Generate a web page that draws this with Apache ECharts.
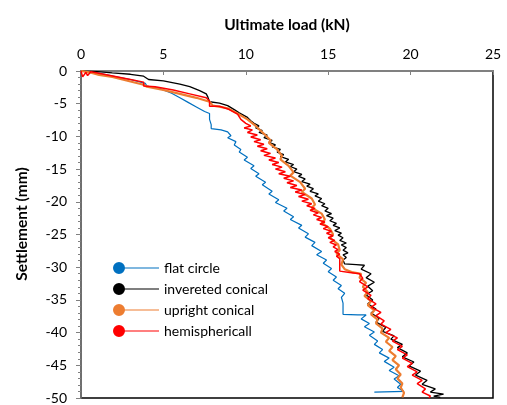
<!DOCTYPE html>
<html>
<head>
<meta charset="utf-8">
<script src="https://cdn.jsdelivr.net/npm/echarts@6/dist/echarts.min.js"></script>
<style>
html,body{margin:0;padding:0;background:#fff;}
#chart{width:507px;height:405px;}
</style>
</head>
<body>
<div id="chart"></div>
<script>
// Series names
var seriesNames = ['flat circle', 'invereted conical', 'upright conical', 'hemisphericall'];
var seriesColors = ['#0070C0', '#000000', '#ED7D31', '#FF0000'];

// [load (kN), settlement (mm)]
var flatCircle = [[0,0],[0.4,-0.1],[1,-0.3],[2,-0.8],[3,-1.3],[3.9,-1.9],[4.0,-2.3],[4.8,-2.7],[5.5,-3.4],[6.0,-4.1],[6.5,-4.8],[7.0,-5.5],[7.5,-6.2],[7.8,-6.5],[7.8,-7.4],[7.9,-8.2],[7.9,-8.8],[8.5,-9.0],[8.9,-9.3],[9.1,-9.9],[8.9,-10.2],[9.4,-10.8],[9.3,-11.3],[9.7,-12.0],[9.6,-12.4],[10.1,-13.2],[9.9,-13.6],[10.5,-14.5],[10.3,-14.9],[10.8,-15.7],[10.6,-16.1],[11.2,-17.0],[11.0,-17.4],[11.6,-18.4],[11.4,-18.8],[12.0,-19.7],[11.8,-20.1],[12.5,-21.0],[12.3,-21.4],[12.9,-22.3],[12.7,-22.7],[13.4,-23.6],[13.2,-24.0],[13.8,-24.9],[13.6,-25.4],[14.2,-26.2],[14.0,-26.7],[14.6,-27.6],[14.3,-28.1],[14.9,-28.9],[14.7,-29.4],[15.2,-30.2],[15.0,-30.7],[15.5,-31.5],[15.3,-32.0],[15.8,-32.8],[15.6,-33.3],[16.0,-34.0],[15.8,-34.6],[15.9,-35.5],[15.9,-36.5],[15.9,-37.2],[16.8,-37.3],[17.3,-37.3],[17.0,-37.9],[17.5,-38.6],[17.2,-39.1],[17.8,-39.9],[17.5,-40.4],[18.0,-41.3],[17.8,-41.8],[18.3,-42.6],[18.1,-43.1],[18.7,-43.9],[18.4,-44.4],[19.0,-45.3],[18.7,-45.8],[19.3,-46.6],[19.0,-47.1],[19.4,-47.9],[19.2,-48.4],[19.6,-49.0],[17.8,-49.1]];

var inveretedConical = [[0,0],[1,-0.1],[1.9,-0.3],[3,-0.5],[3.8,-0.8],[3.9,-1.1],[4.1,-1.3],[5.0,-1.5],[6.0,-2.0],[6.6,-2.4],[7.2,-3.0],[7.6,-3.5],[7.7,-4.0],[7.8,-4.7],[8.4,-4.9],[8.9,-5.3],[9.3,-5.9],[9.6,-6.4],[10.1,-7.1],[10.3,-7.6],[10.5,-8.0],[10.8,-8.4],[10.6,-8.7],[11.0,-9.1],[10.8,-9.4],[11.3,-9.8],[11.1,-10.2],[11.6,-10.6],[11.4,-10.9],[11.8,-11.3],[11.6,-11.6],[12.1,-12.0],[11.9,-12.4],[12.3,-12.8],[12.1,-13.1],[12.6,-13.5],[12.4,-13.9],[12.9,-14.3],[12.7,-14.6],[13.1,-15.0],[12.9,-15.4],[13.4,-15.8],[13.2,-16.1],[13.6,-16.5],[13.4,-16.9],[13.9,-17.3],[13.7,-17.6],[14.1,-18.0],[13.9,-18.4],[14.4,-18.8],[14.2,-19.1],[14.6,-19.5],[14.4,-19.9],[14.8,-20.3],[14.6,-20.6],[15.0,-21.0],[14.8,-21.4],[15.2,-21.8],[14.9,-22.1],[15.3,-22.5],[15.1,-22.9],[15.5,-23.3],[15.3,-23.6],[15.7,-24.0],[15.4,-24.4],[15.8,-24.8],[15.6,-25.1],[15.9,-25.5],[15.7,-25.9],[16.1,-26.3],[15.8,-26.6],[16.1,-27.0],[15.9,-27.4],[16.2,-27.8],[15.9,-28.1],[16.1,-28.5],[15.9,-28.9],[16.0,-29.5],[16.7,-29.6],[17.2,-29.7],[17.0,-30.3],[17.6,-31.0],[17.3,-31.6],[17.8,-32.3],[17.4,-32.9],[17.7,-33.6],[17.3,-34.2],[17.7,-35.0],[17.4,-35.6],[17.9,-36.4],[17.6,-37.0],[18.1,-37.8],[17.9,-38.4],[18.5,-39.2],[18.3,-39.8],[19.0,-40.5],[18.8,-41.0],[19.5,-41.8],[19.2,-42.3],[19.8,-43.1],[19.5,-43.7],[20.2,-44.5],[19.9,-45.1],[20.6,-45.9],[20.3,-46.5],[21.0,-47.3],[20.7,-47.9],[21.5,-48.6],[21.2,-49.1],[22.0,-49.4],[21.4,-49.7],[21.8,-49.9]];

var uprightConical = [[0,0],[0.5,-0.2],[1.1,-0.6],[1.9,-0.9],[3.0,-1.6],[3.8,-2.1],[4.0,-2.4],[5.0,-2.9],[6.0,-3.5],[7.0,-4.1],[7.8,-4.7],[8.0,-5.3],[8.9,-5.7],[9.5,-6.5],[10.1,-7.4],[10.6,-8.4],[11.1,-9.6],[11.5,-10.6],[11.4,-11.0],[11.9,-12.0],[12.2,-13.0],[12.1,-13.5],[12.6,-14.5],[12.9,-15.5],[12.7,-16.0],[13.3,-17.0],[13.6,-18.0],[13.4,-18.5],[14.0,-19.5],[14.2,-20.4],[14.0,-20.9],[14.6,-21.8],[14.8,-22.7],[14.6,-23.2],[15.1,-24.1],[15.3,-25.0],[15.1,-25.5],[15.6,-26.5],[15.7,-27.4],[15.5,-27.9],[15.9,-28.8],[15.8,-29.6],[16.0,-30.3],[16.5,-30.8],[17.0,-31.0],[16.9,-31.6],[17.3,-32.4],[17.1,-33.0],[17.4,-33.8],[17.2,-34.4],[17.6,-35.2],[17.4,-35.8],[17.8,-36.6],[17.6,-37.2],[18.0,-38.0],[17.9,-38.6],[18.3,-39.4],[18.2,-40.0],[18.7,-40.8],[18.5,-41.4],[18.9,-42.2],[18.7,-42.8],[19.1,-43.6],[18.9,-44.2],[19.3,-45.0],[19.1,-45.6],[19.4,-46.4],[19.2,-47.0],[19.5,-47.8],[19.4,-48.4],[19.6,-49.2],[19.5,-49.9]];

var hemisphericall = [[0,0],[0.1,-0.9],[0.3,-0.2],[0.4,-0.7],[0.6,-0.1],[1.0,-0.3],[2.0,-0.8],[3.0,-1.3],[3.8,-1.7],[3.8,-2.3],[4.5,-2.4],[5.6,-2.9],[6.6,-3.5],[7.6,-4.1],[7.8,-4.6],[7.8,-5.4],[8.4,-5.4],[9.0,-5.9],[9.5,-6.6],[9.7,-7.4],[10.0,-8.0],[10.3,-8.4],[9.9,-8.7],[10.4,-9.0],[10.1,-9.4],[10.7,-9.8],[10.3,-10.1],[10.9,-10.5],[10.5,-10.8],[11.1,-11.2],[10.7,-11.5],[11.3,-11.9],[10.9,-12.2],[11.5,-12.6],[11.1,-12.9],[11.8,-13.3],[11.4,-13.6],[12.0,-14.0],[11.6,-14.3],[12.2,-14.7],[11.8,-15.0],[12.4,-15.4],[12.0,-15.7],[12.7,-16.1],[12.3,-16.4],[12.9,-16.8],[12.5,-17.1],[13.1,-17.5],[12.7,-17.8],[13.4,-18.2],[13.0,-18.5],[13.6,-18.9],[13.2,-19.2],[13.8,-19.6],[13.4,-19.9],[14.0,-20.3],[13.7,-20.6],[14.2,-21.0],[13.9,-21.3],[14.4,-21.7],[14.1,-22.0],[14.6,-22.4],[14.3,-22.7],[14.8,-23.1],[14.5,-23.4],[15.0,-23.8],[14.7,-24.1],[15.2,-24.5],[14.9,-24.8],[15.3,-25.2],[15.0,-25.5],[15.4,-25.9],[15.1,-26.2],[15.5,-26.6],[15.3,-26.9],[15.6,-27.3],[15.4,-27.6],[15.7,-28.0],[15.5,-28.3],[15.7,-28.7],[15.6,-29.0],[15.7,-29.6],[15.7,-30.6],[16.3,-30.8],[16.9,-31.0],[17.1,-31.7],[16.9,-32.2],[17.4,-33.0],[17.1,-33.5],[17.6,-34.3],[17.4,-34.8],[17.9,-35.6],[17.6,-36.1],[18.2,-36.9],[17.9,-37.4],[18.4,-38.2],[18.2,-38.7],[18.8,-39.5],[18.5,-40.0],[19.2,-40.8],[18.9,-41.3],[19.5,-42.1],[19.2,-42.6],[19.8,-43.4],[19.5,-43.9],[20.1,-44.7],[19.8,-45.2],[20.4,-46.0],[20.1,-46.5],[20.7,-47.3],[20.4,-47.8],[20.9,-48.6],[20.7,-49.1],[21.2,-49.7],[21.1,-50]];

var seriesData = [flatCircle, inveretedConical, uprightConical, hemisphericall];
var lineWidths = [1.2, 1.3, 2.2, 1.5];

var FONT = 'Lato, "Open Sans", sans-serif';
var chart = echarts.init(document.getElementById('chart'), null, {renderer: 'canvas'});

var legendIcon = 'path://M0,6A6,6 0 1,1 12,6A6,6 0 1,1 0,6Z M10,5.4L46,5.4L46,6.6L10,6.6Z';

var series = seriesNames.map(function (n, i) {
  return {
    name: n,
    type: 'line',
    data: seriesData[i],
    symbol: 'circle',
    showSymbol: false,
    animation: false,
    color: seriesColors[i],
    lineStyle: {color: seriesColors[i], width: lineWidths[i]},
    z: 2 + i
  };
});

chart.setOption({
  animation: false,
  backgroundColor: '#fff',
  grid: {left: 81, right: 14, top: 71, bottom: 4, show: true, borderColor: '#000', borderWidth: 1.5, backgroundColor: 'transparent'},
  legend: {
    orient: 'vertical',
    left: 108,
    top: 256,
    itemWidth: 46,
    itemHeight: 12,
    itemGap: 7,
    icon: legendIcon,
    textStyle: {fontFamily: FONT, fontSize: 14, color: '#000'},
    data: seriesNames
  },
  xAxis: {
    type: 'value',
    position: 'top',
    min: 0, max: 25, interval: 5,
    name: 'Ultimate load (kN)',
    nameLocation: 'middle',
    nameGap: 38,
    nameTextStyle: {fontFamily: FONT, fontSize: 15.5, fontWeight: 'bold', color: '#000'},
    axisLine: {show: true, onZero: false, lineStyle: {color: '#808080', width: 2}},
    axisTick: {show: true, inside: true, length: 4, lineStyle: {color: '#808080'}},
    axisLabel: {fontFamily: FONT, fontSize: 14, color: '#000', margin: 10},
    splitLine: {show: false}
  },
  yAxis: {
    type: 'value',
    min: -50, max: 0, interval: 5,
    axisLine: {show: true, onZero: false, lineStyle: {color: '#808080', width: 1.5}},
    axisTick: {show: true, inside: false, length: 5, lineStyle: {color: '#808080'}},
    minorTick: {show: true, splitNumber: 5, length: 3, lineStyle: {color: '#808080'}},
    axisLabel: {fontFamily: FONT, fontSize: 14, color: '#000', margin: 14},
    splitLine: {show: false}
  },
  graphic: [{
    type: 'text',
    x: 22,
    y: 224,
    rotation: Math.PI / 2,
    style: {text: 'Settlement (mm)', fontFamily: FONT, fontSize: 15.5, fontWeight: 'bold', fill: '#000', align: 'center', verticalAlign: 'middle'}
  }],
  series: series
});
</script>
</body>
</html>
